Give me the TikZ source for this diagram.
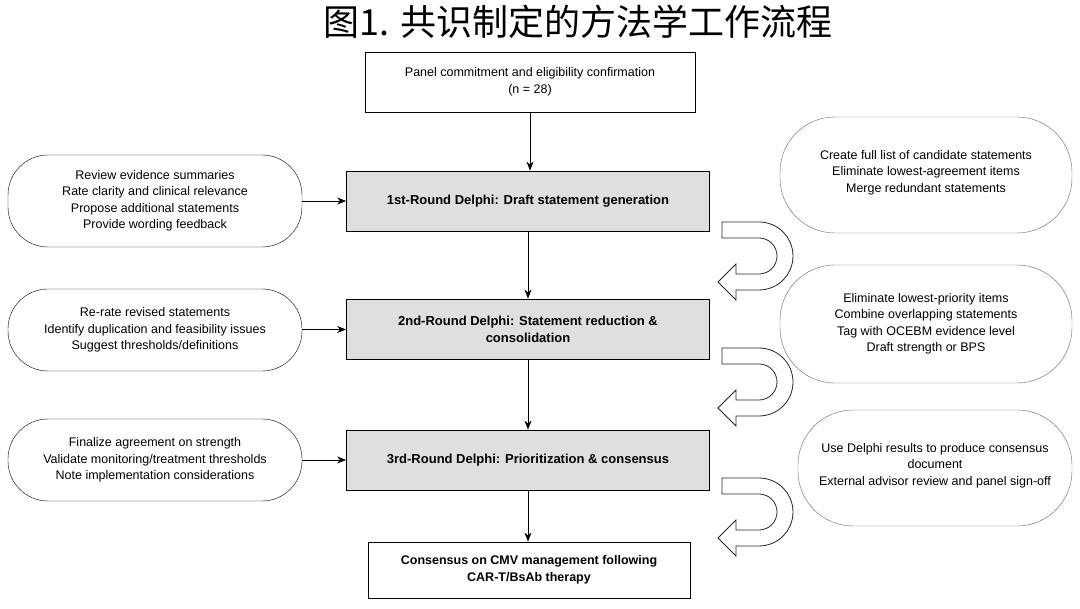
\documentclass[tikz,border=0pt]{standalone}
\usepackage{fontspec}
\setmainfont{Liberation Sans}
\newfontfamily\cjk{Noto Sans CJK SC}
\usetikzlibrary{positioning, arrows.meta}

\begin{document}
\begin{tikzpicture}[
    x=1pt, y=-1pt,
    font=\fontsize{12.5}{16.5}\selectfont,
    phase/.style={rectangle, draw, thick, fill=gray!25, minimum width=363pt, minimum height=60pt, align=center, font=\fontsize{13}{17}\selectfont\bfseries},
    plain/.style={rectangle, draw, thick, minimum width=330pt, minimum height=60pt, align=center},
    note/.style={rectangle, draw, rounded corners=40pt, minimum width=294pt, minimum height=82pt, align=center},
    side/.style={rectangle, draw, gray!80!black, rounded corners=55pt, minimum width=292pt, minimum height=116pt, align=center, text=black},
    arrow/.style={-{Stealth[length=9pt, width=7pt]}, thick},
    uturn/.pic={\draw[thick, gray!30!black, yscale=-1] (4,68) -- (41,68) arc(90:-90:34) -- (18,0) -- (18,-10) -- (0,8) -- (18,26) -- (18,16) -- (41,16) arc(-90:90:18) -- (4,52) -- cycle;}
]
\useasboundingbox (0,0) rectangle (1080,609);

% title
\node[font=\cjk\fontsize{36}{40}\selectfont] (title) at (578,22) {图1. 共识制定的方法学工作流程};

% main column
\node[plain] (start) at (530,82) {Panel commitment and eligibility confirmation\\(n = 28)};
\node[phase] (d1) at (528,201) {1st-Round Delphi: Draft statement generation};
\node[phase] (d2) at (528,329) {2nd-Round Delphi: Statement reduction \&\\consolidation};
\node[phase] (d3) at (528,460) {3rd-Round Delphi: Prioritization \& consensus};
\node[plain, minimum width=322pt, minimum height=56pt, font=\fontsize{12.5}{16.5}\selectfont\bfseries] (final) at (529,570) {Consensus on CMV management following\\CAR-T/BsAb therapy};

% left notes
\node[note, minimum height=92pt] (l1) at (155,201) {Review evidence summaries\\Rate clarity and clinical relevance\\Propose additional statements\\Provide wording feedback};
\node[note] (l2) at (155,330) {Re-rate revised statements\\Identify duplication and feasibility issues\\Suggest thresholds/definitions};
\node[note] (l3) at (155,460) {Finalize agreement on strength\\Validate monitoring/treatment thresholds\\Note implementation considerations};

% right notes
\node[side, text depth=8pt] (s1) at (926,175) {Create full list of candidate statements\\Eliminate lowest-agreement items\\Merge redundant statements};
\node[side, minimum height=118pt] (s2) at (926,324) {Eliminate lowest-priority items\\Combine overlapping statements\\Tag with OCEBM evidence level\\Draft strength or BPS};
\node[side, minimum width=274pt, text depth=8pt] (s3) at (935,468) {Use Delphi results to produce consensus\\document\\External advisor review and panel sign-off};

% u-turns
\pic at (718,290) {uturn};
\pic at (718,416) {uturn};
\pic at (718,546) {uturn};

% arrows
\draw[arrow] (start) -- (d1.north -| start);
\draw[arrow] (d1) -- (d2);
\draw[arrow] (d2) -- (d3);
\draw[arrow] (d3) -- (final.north -| d3);
\draw[arrow] (l1) -- (d1);
\draw[arrow] (l2) -- (d2);
\draw[arrow] (l3) -- (d3);
\end{tikzpicture}
\end{document}
